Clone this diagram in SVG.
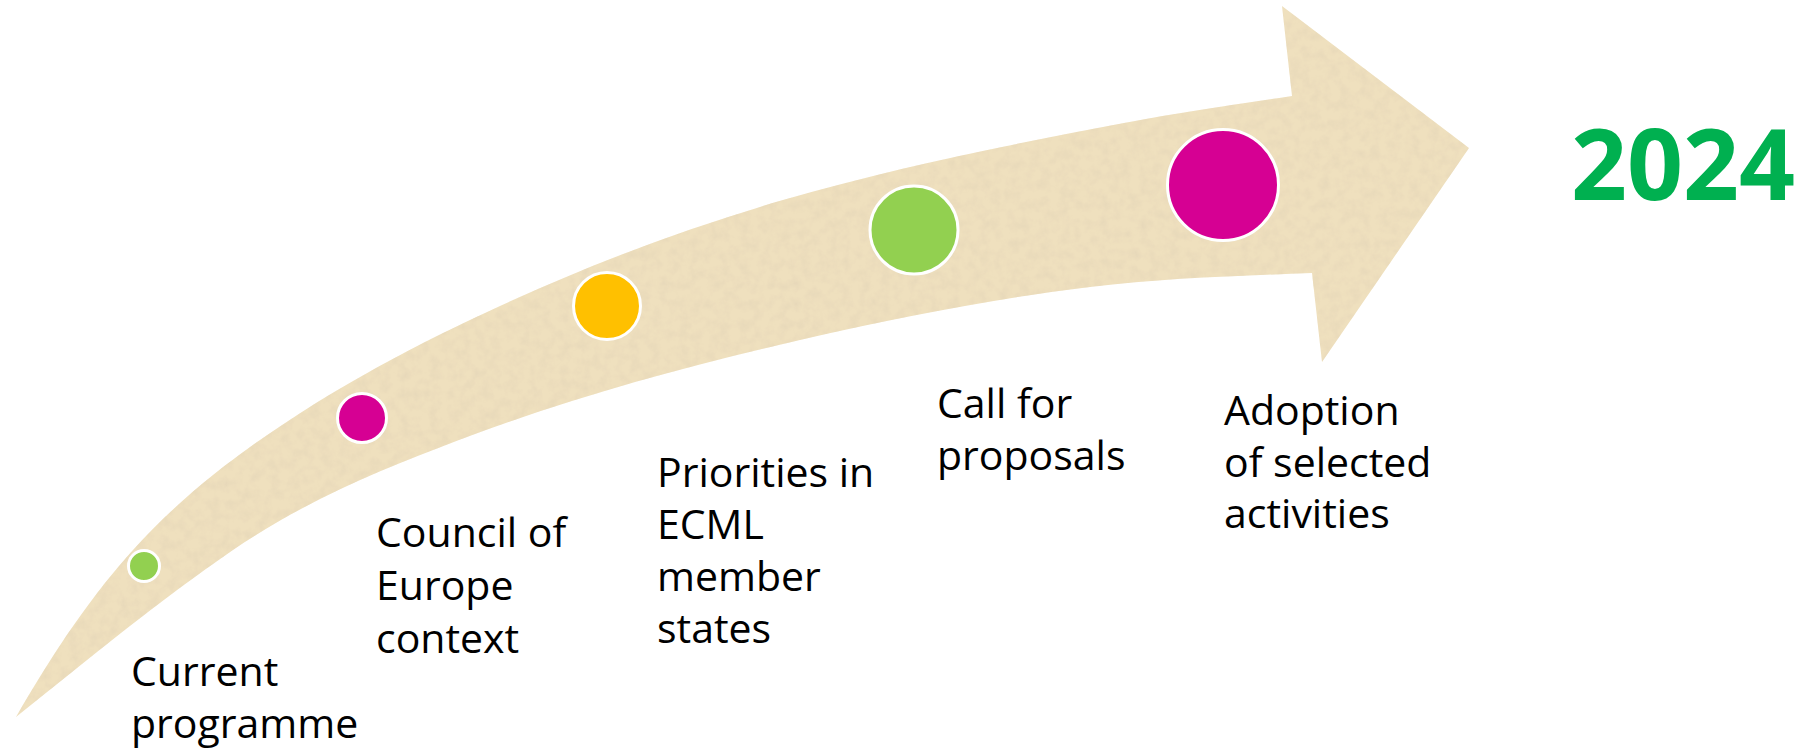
<svg xmlns="http://www.w3.org/2000/svg" width="1813" height="753" viewBox="0 0 1813 753">
  <style>
    .lbl { font-family: "Open Sans", "Liberation Sans", sans-serif; font-size: 41px; fill: #000000; }
    .year { font-family: "Open Sans", "Liberation Sans", sans-serif; font-size: 98px; font-weight: 700; fill: #00B050; }
    .dot { stroke: #FFFFFF; stroke-width: 3; }
  </style>
  <defs>
    <filter id="paper" x="0" y="0" width="100%" height="100%">
      <feTurbulence type="fractalNoise" baseFrequency="0.1" numOctaves="4" seed="7" result="noise"/>
      <feColorMatrix in="noise" type="matrix" values="0 0 0 0 0.78  0 0 0 0 0.67  0 0 0 0 0.48  0 0 0 1.4 -0.55" result="tint"/>
      <feComposite in="tint" in2="SourceGraphic" operator="in" result="tex"/>
      <feMerge>
        <feMergeNode in="SourceGraphic"/>
        <feMergeNode in="tex"/>
      </feMerge>
    </filter>
  </defs>
  <rect width="1813" height="753" fill="#FFFFFF"/>
  <g id="arrow">
    <path filter="url(#paper)" fill="#EFE0BE" d="M16,717 C55,648.75 94,592.9 133,550 C175.3,503.4 217.7,469.6 260,440 C340,384 420,342.8 500,306 C594.3,262.6 688.7,227.4 783,200 C896.7,167 1010.3,144.6 1124,123 C1180,112.4 1236,104.4 1292,96 L1282,6 L1469,148 L1322,362 L1312,273 C1238,276 1164,278.1 1090,287 C993.3,298.6 896.7,317.8 800,340 C686.3,366.1 572.7,396.8 459,440 C383.7,468.6 308.3,498.8 233,550 C160.7,599.2 88.3,659.1 16,717 Z"/>
  </g>
  <g id="node-current">
    <circle class="dot" cx="144" cy="566" r="15.5" fill="#92D050"/>
    <text class="lbl" x="131" y="686">Current</text>
    <text class="lbl" x="131" y="738">programme</text>
  </g>
  <g id="node-council">
    <circle class="dot" cx="362" cy="418" r="24.5" fill="#D60093"/>
    <text class="lbl" x="376" y="547">Council of</text>
    <text class="lbl" x="376" y="600">Europe</text>
    <text class="lbl" x="376" y="653">context</text>
  </g>
  <g id="node-priorities">
    <circle class="dot" cx="607" cy="306" r="33.5" fill="#FFC000"/>
    <text class="lbl" x="657" y="487">Priorities in</text>
    <text class="lbl" x="657" y="539">ECML</text>
    <text class="lbl" x="657" y="591">member</text>
    <text class="lbl" x="657" y="643">states</text>
  </g>
  <g id="node-call">
    <circle class="dot" cx="914" cy="230" r="44" fill="#92D050"/>
    <text class="lbl" x="937" y="418">Call for</text>
    <text class="lbl" x="937" y="470">proposals</text>
  </g>
  <g id="node-adoption">
    <circle class="dot" cx="1223" cy="185" r="55.5" fill="#D60093"/>
    <text class="lbl" x="1224" y="425">Adoption</text>
    <text class="lbl" x="1224" y="477">of selected</text>
    <text class="lbl" x="1224" y="528">activities</text>
  </g>
  <g id="year">
    <text class="year" x="1571" y="200">2024</text>
  </g>
  <g id="connectors"></g>
</svg>
